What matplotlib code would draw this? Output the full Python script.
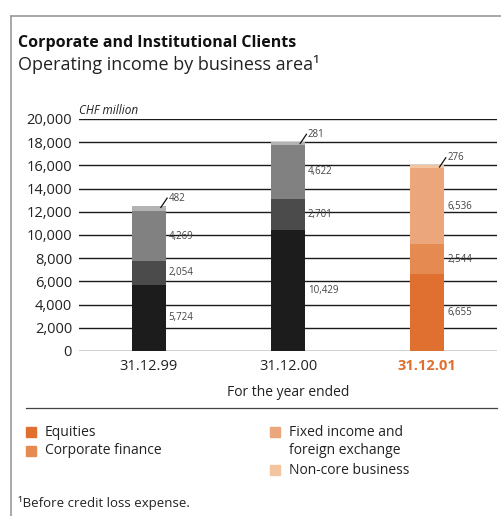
import matplotlib.pyplot as plt
from matplotlib.patches import Rectangle
from matplotlib.lines import Line2D

plt.rcParams['font.family'] = ['Open Sans', 'DejaVu Sans']

# Data
years = ["31.12.99", "31.12.00", "31.12.01"]
equities = [5724, 10429, 6655]
corporate_finance = [2054, 2701, 2544]
fixed_income_fx = [4269, 4622, 6536]
non_core = [482, 281, 276]
series_names = ["Equities", "Corporate finance", "Fixed income and\nforeign exchange", "Non-core business"]
y_ticks = list(range(0, 20001, 2000))

grey_cols = ["#1c1c1c", "#4b4b4b", "#818181", "#b3b3b3"]
orange_cols = ["#e07030", "#e58b52", "#eba77b", "#f2c4a0"]
orange_text = "#e07030"

W, H = 501, 516
fig = plt.figure(figsize=(W / 100, H / 100), dpi=100)

# outer frame (gray line top and left)
fig.add_artist(Line2D([11 / W, 1.0], [1 - 16 / H, 1 - 16 / H], color="#9a9a9a", lw=1.2))
fig.add_artist(Line2D([11 / W, 11 / W], [0, 1 - 16 / H], color="#9a9a9a", lw=1.2))

fig.text(18 / W, 1 - 43 / H, "Corporate and Institutional Clients", fontsize=11.5,
         fontweight="bold", va="center", ha="left", color="#111111")
fig.text(18 / W, 1 - 65 / H, "Operating income by business area¹", fontsize=13,
         va="center", ha="left", color="#222222")

ax = fig.add_axes([79 / W, 1 - 351 / H, 418 / W, (351 - 119) / H])
ax.set_xlim(-0.5, 2.5)
ax.set_ylim(0, 20000)
for s in ax.spines.values():
    s.set_visible(False)
ax.set_yticks(y_ticks)
ax.set_yticklabels([f"{v:,}" for v in y_ticks], fontsize=10.5, color="#222222")
ax.tick_params(axis="y", length=0, pad=5)
ax.tick_params(axis="x", length=0, pad=6)
ax.grid(axis="y", color="#1a1a1a", lw=1.0)
ax.set_axisbelow(True)
ax.set_xticks(range(len(years)))
ax.set_xticklabels(years, fontsize=10.5, color="#222222")
lbl = ax.get_xticklabels()[2]
lbl.set_color(orange_text)
lbl.set_fontweight("bold")

ax.text(0, 1.01, "CHF million", transform=ax.transAxes, fontsize=8.5, style="italic",
        ha="left", va="bottom", color="#222222")

width = 0.245
stacks = [equities, corporate_finance, fixed_income_fx, non_core]
for i in range(len(years)):
    cols = orange_cols if i == 2 else grey_cols
    bottom = 0
    for k, vals in enumerate(stacks):
        v = vals[i]
        ax.bar(i, v, width, bottom=bottom, color=cols[k], zorder=3)
        if k < 3:
            ax.text(i + width / 2 + 0.02, bottom + v / 2, f"{v:,}", fontsize=7,
                    color="#444444", ha="left", va="center")
        else:
            top = bottom + v
            x0 = i + width / 2 - 0.035
            ax.plot([x0, x0 + 0.045], [top - 150, top + 650], color="#111111", lw=0.9, zorder=4)
            ax.text(x0 + 0.055, top + 650, f"{v:,}", fontsize=7, color="#444444",
                    ha="left", va="center")
        bottom += v

fig.text(288 / W, 1 - 393 / H, "For the year ended", fontsize=10, ha="center",
         va="center", color="#222222")
fig.add_artist(Line2D([26 / W, 497 / W], [1 - 408 / H, 1 - 408 / H], color="#444444", lw=0.9))

# legend
leg_pos = [(26, 432), (26, 451), (270, 432), (270, 470)]
for k, (lx, ly) in enumerate(leg_pos):
    fig.add_artist(Rectangle((lx / W, 1 - (ly + 5) / H), 10 / W, 10 / H, color=orange_cols[k],
                             transform=fig.transFigure))
    for j, line in enumerate(series_names[k].split("\n")):
        fig.text((lx + 19) / W, 1 - (ly + 19 * j) / H, line, fontsize=10, ha="left",
                 va="center", color="#222222")

fig.text(18 / W, 1 - 503 / H, "¹Before credit loss expense.", fontsize=9.5,
         ha="left", va="center", color="#222222")

fig.savefig("out.png", dpi=100)
